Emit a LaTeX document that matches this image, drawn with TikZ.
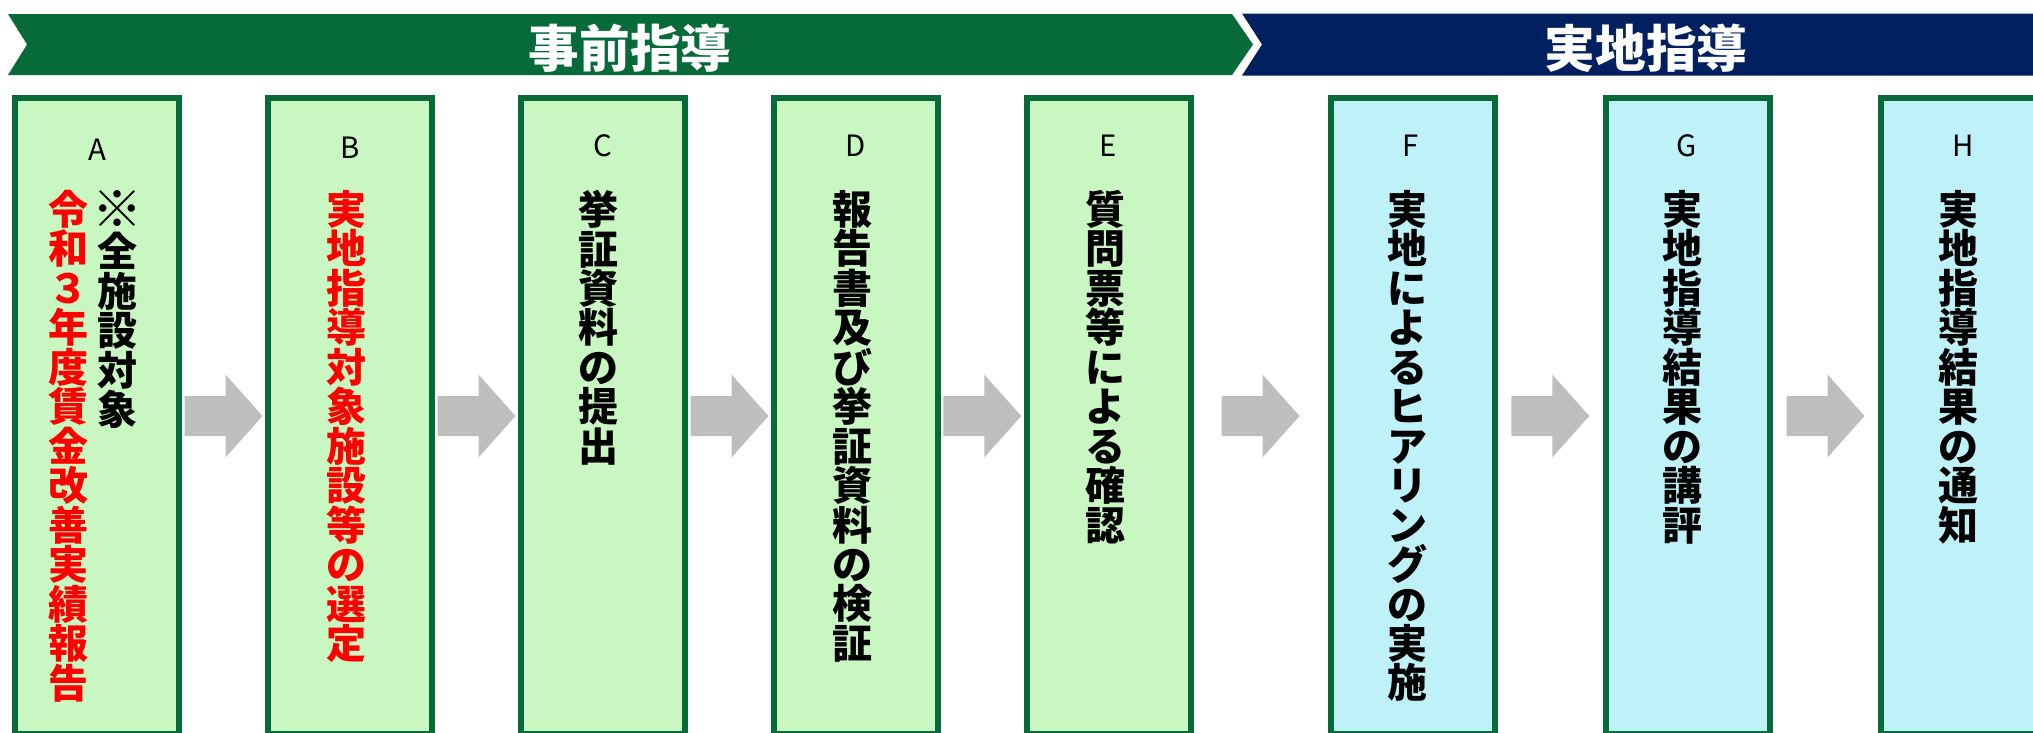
\documentclass[tikz,border=0pt]{standalone}
\usepackage{fontspec}
\setmainfont{Noto Sans CJK JP}
\usetikzlibrary{calc}
\definecolor{bgreen}{HTML}{066B39}
\definecolor{bnavy}{HTML}{002060}
\definecolor{gfill}{HTML}{C9F7C1}
\definecolor{cfill}{HTML}{BEF2F8}
\definecolor{arrowgray}{HTML}{BDBEBD}
\definecolor{jred}{HTML}{FF0000}
\lineskiplimit=-30pt
\lineskip=0pt
\newcommand\flowarrow[1]{%
  \fill[arrowgray] ([shift={(-39,-20)}]#1) -- ([shift={(2,-20)}]#1) -- ([shift={(2,-41.5)}]#1)
    -- ([shift={(39,0)}]#1) -- ([shift={(2,41.5)}]#1) -- ([shift={(2,20)}]#1)
    -- ([shift={(-39,20)}]#1) -- cycle;}
\begin{document}
\begin{tikzpicture}[x=0.75pt,y=-0.75pt,
  stepbox/.style={draw=bgreen, line width=4.5pt, minimum width=123pt, minimum height=477pt, inner sep=0pt, outer sep=0pt},
  gbox/.style={stepbox, fill=gfill},
  cbox/.style={stepbox, fill=cfill},
  vtext/.style={anchor=north, align=center, inner sep=0pt, font=\bfseries\fontsize{30pt}{29.6pt}\selectfont},
  lbl/.style={inner sep=0pt, font=\fontsize{22pt}{26pt}\selectfont},
  btext/.style={inner sep=0pt, text=white, font=\bfseries\fontsize{38pt}{40pt}\selectfont}]
\useasboundingbox (0,0) rectangle (2033,732);
\clip (0,0) rectangle (2033,732);
\fill[white] (0,0) rectangle (2033,732);

% banners
\fill[bgreen] (8,14) -- (1232,14) -- (1253,44.5) -- (1232,75) -- (8,75) -- (27,44.5) -- cycle;
\fill[bnavy] (1242,13.5) -- (2040,13.5) -- (2040,75.5) -- (1242,75.5) -- (1262,44.5) -- cycle;
\node[btext] (pre) at (630,48) {事前指導};
\node[btext] (onsite) at (1646,48) {実地指導};

% boxes
\node[gbox] (A) at (97,416) {};
\node[gbox] (B) at (350,416) {};
\node[gbox] (C) at (603,416) {};
\node[gbox] (D) at (856,416) {};
\node[gbox] (E) at (1108.5,416) {};
\node[cbox] (F) at (1412.5,416) {};
\node[cbox] (G) at (1688,416) {};
\node[cbox] (H) at (1963,416) {};

% labels
\node[lbl] (lA) at (97,150) {A};
\node[lbl] (lB) at (350,148) {B};
\node[lbl] (lC) at (603,146) {C};
\node[lbl] (lD) at (856,146) {D};
\node[lbl] (lE) at (1108,146) {E};
\node[lbl] (lF) at (1411,146) {F};
\node[lbl] (lG) at (1687,146) {G};
\node[lbl] (lH) at (1963,146) {H};

% texts
\node[vtext, text=jred] (tA1) at (68.5,190) {令\\和\\３\\年\\度\\賃\\金\\改\\善\\実\\績\\報\\告};
\node[vtext] (tA2) at (117,190) {\scalebox{1.25}{※}\\全\\施\\設\\対\\象};
\node[vtext, text=jred] (tB) at (346,190) {実\\地\\指\\導\\対\\象\\施\\設\\等\\の\\選\\定};
\node[vtext] (tC) at (598,190) {挙\\証\\資\\料\\の\\提\\出};
\node[vtext] (tD) at (852,190) {報\\告\\書\\及\\び\\挙\\証\\資\\料\\の\\検\\証};
\node[vtext] (tE) at (1105,190) {質\\問\\票\\等\\に\\よ\\る\\確\\認};
\node[vtext] (tF) at (1407,190) {実\\地\\に\\よ\\る\\ヒ\\ア\\リ\\ン\\グ\\の\\実\\施};
\node[vtext] (tG) at (1682,190) {実\\地\\指\\導\\結\\果\\の\\講\\評};
\node[vtext] (tH) at (1958,190) {実\\地\\指\\導\\結\\果\\の\\通\\知};

% arrows
\coordinate (mAB) at ($(A.east)!0.5!(B.west)$);
\coordinate (mBC) at ($(B.east)!0.5!(C.west)$);
\coordinate (mCD) at ($(C.east)!0.5!(D.west)$);
\coordinate (mDE) at ($(D.east)!0.5!(E.west)$);
\coordinate (mEF) at ($(E.east)!0.5!(F.west)$);
\coordinate (mFG) at ($(F.east)!0.5!(G.west)$);
\coordinate (mGH) at ($(G.east)!0.5!(H.west)$);
\flowarrow{mAB}
\flowarrow{mBC}
\flowarrow{mCD}
\flowarrow{mDE}
\flowarrow{mEF}
\flowarrow{mFG}
\flowarrow{mGH}
\end{tikzpicture}
\end{document}
